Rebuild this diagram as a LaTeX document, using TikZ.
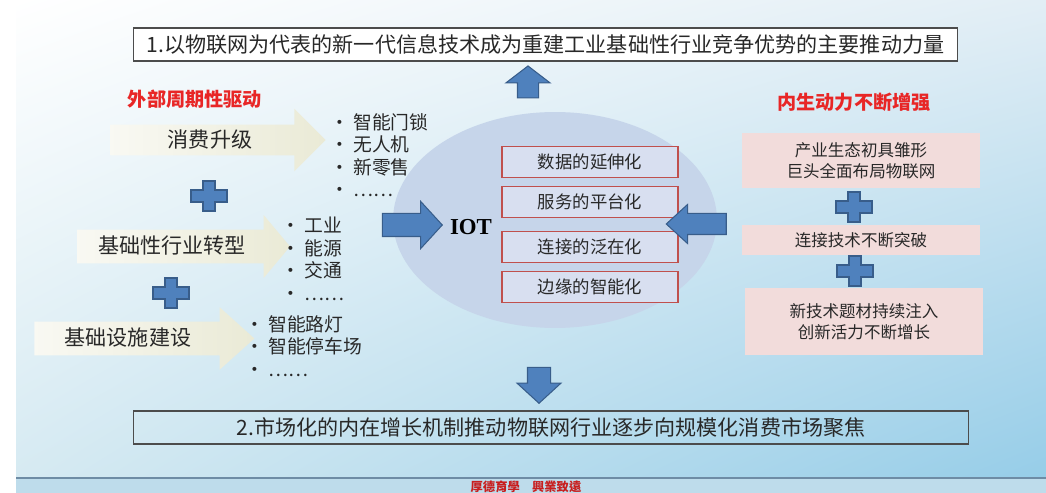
\documentclass[tikz,border=0pt]{standalone}
\usepackage{fontspec}
\setmainfont{Noto Sans CJK SC}
\newfontfamily\tcfont{Noto Sans CJK TC}
\newfontfamily\seriffont{Liberation Serif}
\usetikzlibrary{shapes.geometric,shapes.arrows,shadings}

\definecolor{arrowblue}{RGB}{79,129,189}
\definecolor{arrowedge}{RGB}{56,93,138}
\definecolor{beige}{RGB}{234,234,214}
\definecolor{cloudblue}{RGB}{198,213,234}
\definecolor{boxred}{RGB}{192,80,77}
\definecolor{boxfill}{RGB}{216,223,240}
\definecolor{pinkfill}{RGB}{242,220,219}
\definecolor{headred}{RGB}{232,38,38}
\definecolor{textgrey}{RGB}{40,40,40}
\definecolor{bgtopright}{RGB}{226,238,245}
\definecolor{bgbotleft}{RGB}{214,234,242}
\definecolor{bgbotright}{RGB}{150,205,232}
\definecolor{footband}{RGB}{190,220,235}
\definecolor{footline}{RGB}{110,140,165}
\definecolor{mottored}{RGB}{200,30,30}
\def\plusmark(#1,#2){\draw[fill=arrowblue, draw=arrowedge, line width=0.6pt, shift={(#1,#2)}] (-6,-15) -- (6,-15) -- (6,-6) -- (18,-6) -- (18,6) -- (6,6) -- (6,15) -- (-6,15) -- (-6,6) -- (-18,6) -- (-18,-6) -- (-6,-6) -- cycle;}
\def\bul{\makebox[0.46cm][l]{•}}

\begin{document}
\begin{tikzpicture}[x=0.02cm, y=-0.02cm,
	blockarrow/.style={single arrow, fill=arrowblue, draw=arrowedge, line width=0.6pt, inner xsep=0pt, minimum width=0pt, single arrow tip angle=95},
	feedarrow/.style={single arrow, left color=beige!30!white, right color=beige, inner xsep=0pt, minimum width=0pt, single arrow tip angle=90},
	feedlabel/.style={font=\fontsize{12}{14}\selectfont, text=textgrey},
	itemlist/.style={anchor=west, inner sep=0pt, align=left, text=textgrey, font=\fontsize{10.7}{12.8}\selectfont},
	trendbox/.style={draw=black!70, line width=0.6pt, minimum height=0.66cm, font=\fontsize{12}{14}\selectfont, text=textgrey},
	featurebox/.style={draw=boxred, line width=0.9pt, fill=boxfill, minimum width=3.52cm, minimum height=0.62cm, font=\fontsize{9.9}{12}\selectfont, text=textgrey},
	forcebox/.style={fill=pinkfill, minimum width=4.76cm, align=center, font=\fontsize{9.4}{11.9}\selectfont, text=textgrey},
	redhead/.style={font=\bfseries\fontsize{10.9}{13}\selectfont, text=headred}]
			%%%%% BACKGROUND %%%%%
			\useasboundingbox (0,0) rectangle (1046,493);
			\fill[white] (0,0) rectangle (1046,493);
			\shade[upper left=white, upper right=bgtopright, lower left=bgbotleft, lower right=bgbotright] (16,0) rectangle (1046,478);
			\fill[footband] (16,478) rectangle (1046,493);
			\draw[line width=0.9pt, color=footline] (16,478) -- (1046,478);
			\node[font=\tcfont\bfseries\fontsize{7}{8}\selectfont, text=mottored] (motto) at (526,487) {厚德育學\quad 興業致遠};
			
			%%%%% TOP AND BOTTOM %%%%%
			\node[trendbox, fill=white, minimum width=16.5cm] (goal1) at (545.5,44.5) {1.以物联网为代表的新一代信息技术成为重建工业基础性行业竞争优势的主要推动力量};
			\node[trendbox, minimum width=16.72cm] (goal2) at (551,427.5) {2.市场化的内在增长机制推动物联网行业逐步向规模化消费市场聚焦};
			
			%%%%% IOT CLOUD %%%%%
			\node[ellipse, fill=cloudblue, minimum width=6.48cm, minimum height=4.32cm] (cloud) at (555,220) {};
			\node[font=\seriffont\bfseries\fontsize{13}{15}\selectfont] (iot) at (471,227) {IOT};
			\node[featurebox] (f1) at (590,162) {数据的延伸化};
			\node[featurebox] (f2) at (590,202) {服务的平台化};
			\node[featurebox] (f3) at (590,247) {连接的泛在化};
			\node[featurebox] (f4) at (590,287) {边缘的智能化};
			\node[blockarrow, shape border rotate=90, minimum height=0.64cm, inner ysep=0pt, inner xsep=0.2cm, single arrow head extend=0.23cm, single arrow tip angle=105] (up) at (528,86) {};
			\node[blockarrow, shape border rotate=270, minimum height=0.72cm, inner ysep=0pt, inner xsep=0.22cm, single arrow head extend=0.21cm] (down) at (539,380) {};
			\node[blockarrow, minimum height=1.2cm, inner ysep=0.22cm, single arrow head extend=0.24cm] (intoiot) at (407,225) {};
			\node[blockarrow, shape border rotate=180, minimum height=1.2cm, inner ysep=0.2cm, single arrow head extend=0.18cm, single arrow tip angle=85] (fromright) at (702,224) {};
			
			%%%%% LEFT : OUTER DRIVERS %%%%%
			\node[redhead] (outer) at (195,99) {外部周期性驱动};
			\node[feedarrow, minimum height=4.3cm, inner ysep=0.3cm, single arrow head extend=0.32cm] (a1) at (210.5,140) {};
			\node[feedarrow, minimum height=4.26cm, inner ysep=0.33cm, single arrow head extend=0.29cm, single arrow tip angle=100] (a2) at (176.5,246.5) {};
			\node[feedarrow, minimum height=4.4cm, inner ysep=0.33cm, single arrow head extend=0.29cm, single arrow tip angle=84] (a3) at (135,338.5) {};
			\node[feedlabel] (l1) at (210,140) {消费升级};
			\node[feedlabel] (l2) at (172,246) {基础性行业转型};
			\node[feedlabel] (l3) at (128,338) {基础设施建设};
			\plusmark(209,196)
			\plusmark(171,293)
			\node[itemlist] (list1) at (330,155) {\bul 智能门锁\\\bul 无人机\\\bul 新零售\\\bul ……};
			\node[itemlist] (list2) at (281,259) {\bul 工业\\\bul 能源\\\bul 交通\\\bul ……};
			\node[itemlist] (list3) at (245,346) {\bul 智能路灯\\\bul 智能停车场\\\bul ……};
			
			%%%%% RIGHT : INNER FORCES %%%%%
			\node[redhead] (inner) at (854,102) {内生动力不断增强};
			\node[forcebox, minimum height=1.1cm] (p1) at (861,160.5) {产业生态初具雏形\\巨头全面布局物联网};
			\node[forcebox, minimum height=0.6cm] (p2) at (861,240) {连接技术不断突破};
			\node[forcebox, minimum height=1.34cm] (p3) at (864,321.5) {新技术题材持续注入\\创新活力不断增长};
			\plusmark(854,207)
			\plusmark(855,271)
\end{tikzpicture}
\end{document}
